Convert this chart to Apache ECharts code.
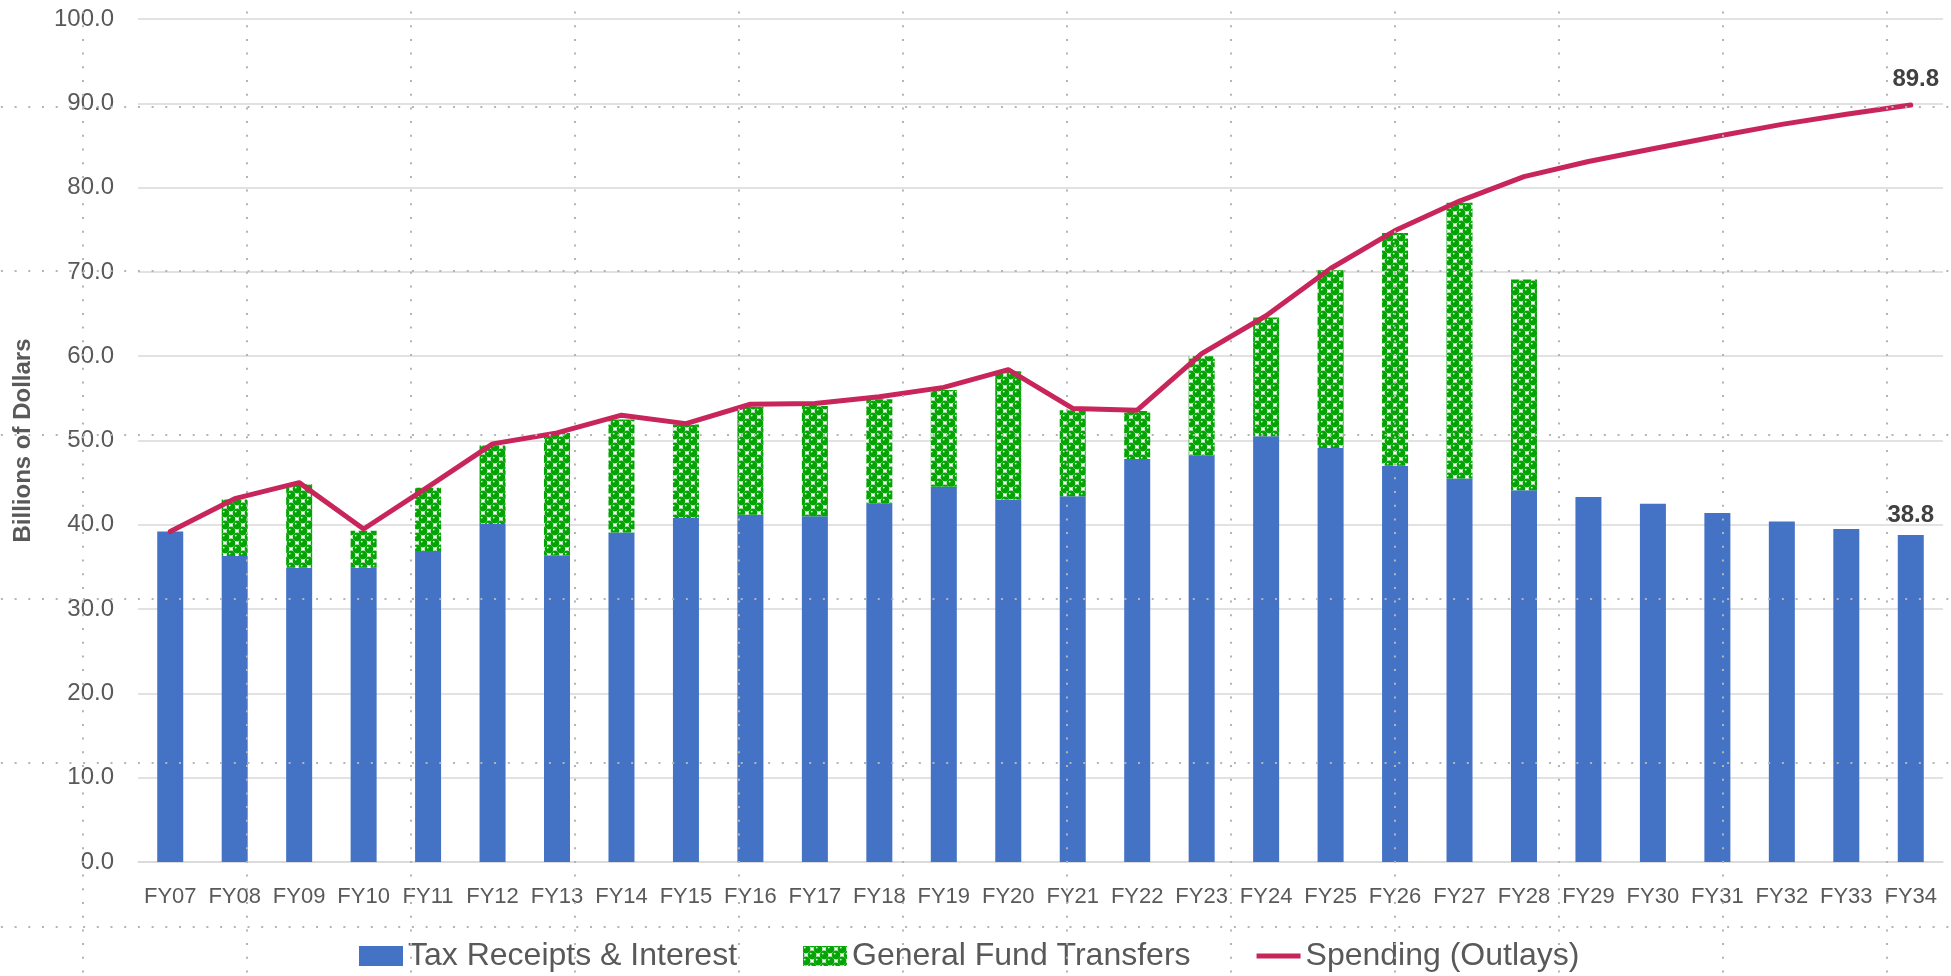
<!DOCTYPE html>
<html>
<head>
<meta charset="utf-8">
<title>Outlays vs receipts</title>
<script src="https://cdn.jsdelivr.net/npm/echarts@6.0.0/dist/echarts.min.js"></script>
<style>
  html, body { margin: 0; padding: 0; background: #fff; }
  #container { width: 1951px; height: 976px; }
</style>
</head>
<body>
<div id="container"></div>
<script>
// fiscal years
var years = ['FY07','FY08','FY09','FY10','FY11','FY12','FY13','FY14','FY15','FY16',
  'FY17','FY18','FY19','FY20','FY21','FY22','FY23','FY24','FY25','FY26',
  'FY27','FY28','FY29','FY30','FY31','FY32','FY33','FY34'];

// billions of dollars
var taxReceipts = [39.2, 36.3, 34.9, 34.9, 36.9, 40.1, 36.4, 39.1, 40.8, 41.2,
  41.0, 42.5, 44.5, 43.0, 43.4, 47.8, 48.2, 50.5, 49.1, 47.0,
  45.5, 44.1, 43.3, 42.5, 41.4, 40.4, 39.5, 38.8];
var fundTransfers = [null, 6.7, 9.9, 4.4, 7.5, 9.3, 14.5, 13.4, 11.1, 12.8,
  13.1, 12.4, 11.5, 15.2, 10.2, 5.7, 11.8, 14.1, 21.1, 27.6,
  32.7, 25.0, null, null, null, null, null, null];
var spending = [39.2, 43.1, 45.0, 39.5, 44.5, 49.6, 50.9, 53.0, 52.0, 54.3,
  54.4, 55.2, 56.3, 58.4, 53.8, 53.6, 60.3, 64.8, 70.4, 74.9,
  78.4, 81.3, 83.1, 84.6, 86.1, 87.5, 88.7, 89.8];

var yTicks = { min: 0, max: 100, step: 10 };

var font = 'Liberation Sans';
var grey = '#595959';
var red = '#c8265a';

// green "sphere" fill like the office pattern
function spherePattern() {
  var c = document.createElement('canvas');
  c.width = 12;
  c.height = 12;
  var ctx = c.getContext('2d');
  ctx.fillStyle = '#ffffff';
  ctx.fillRect(0, 0, 12, 12);
  var pts = [[3, 3], [9, 9], [-3, 9], [15, 3], [9, -3], [3, 15], [-3, -3], [15, 15]];
  pts.forEach(function (p) {
    ctx.fillStyle = '#03a403';
    ctx.beginPath();
    ctx.arc(p[0], p[1], 4.4, 0, Math.PI * 2);
    ctx.fill();
    ctx.fillStyle = '#e8ffe8';
    ctx.beginPath();
    ctx.arc(p[0] - 1.3, p[1] - 1.4, 0.9, 0, Math.PI * 2);
    ctx.fill();
  });
  return { image: c, repeat: 'repeat' };
}

var last = years.length - 1;
var boldLabel = { show: true, fontFamily: font, fontWeight: 'bold', fontSize: 24, color: '#404040' };

var taxData = taxReceipts.map(function (v, i) {
  if (i === last) {
    return { value: v, label: Object.assign({ position: 'top', distance: 8 }, boldLabel) };
  }
  return v;
});
var spendData = spending.map(function (v, i) {
  if (i === last) {
    return { value: v, label: Object.assign({ position: 'top', distance: 13, offset: [5, 0] }, boldLabel) };
  }
  return v;
});

// the dotted layout guides lying over the whole picture
var guideLine = { show: true, lineStyle: { color: '#b4b4b4', width: 2, type: [2, 11.7] } };

var instance = echarts.init(document.getElementById('container'));
instance.setOption({
  animation: false,
  textStyle: { fontFamily: font },
  grid: [
    { left: 138, right: 8, top: 19, bottom: 114, outerBoundsMode: 'none' },
    { left: -81.3, top: -57, width: 2132, height: 1148, outerBoundsMode: 'none' }
  ],
  legend: {
    top: 935,
    left: 354,
    itemWidth: 44,
    itemHeight: 20,
    itemGap: 66,
    textStyle: { fontFamily: font, fontSize: 32, color: grey },
    data: [
      { name: 'Tax Receipts & Interest', icon: 'rect' },
      { name: 'General Fund Transfers', icon: 'rect' },
      { name: 'Spending (Outlays)', icon: 'path://M0,0L44,0L44,5L0,5Z' }
    ]
  },
  xAxis: [
    {
      type: 'category',
      data: years,
      axisLine: { lineStyle: { color: '#d9d9d9', width: 1.5 } },
      axisTick: { show: false },
      axisLabel: { interval: 0, fontFamily: font, fontSize: 22, color: grey, margin: 24 }
    },
    {
      gridIndex: 1, type: 'value', min: 0, max: 2132, interval: 164, z: 10, silent: true,
      axisLine: { show: false }, axisTick: { show: false }, axisLabel: { show: false },
      splitLine: guideLine
    }
  ],
  yAxis: [
    {
      type: 'value',
      min: yTicks.min,
      max: yTicks.max,
      interval: yTicks.step,
      name: 'Billions of Dollars',
      nameLocation: 'middle',
      nameGap: 103,
      nameTextStyle: { fontFamily: font, fontWeight: 'bold', fontSize: 24, color: grey },
      axisLabel: {
        fontFamily: font, fontSize: 24, color: grey, margin: 24,
        formatter: function (v) { return v.toFixed(1); }
      },
      splitLine: { lineStyle: { color: '#d9d9d9', width: 1.5 } }
    },
    {
      gridIndex: 1, type: 'value', min: 0, max: 1148, interval: 164, z: 10, silent: true,
      axisLine: { show: false }, axisTick: { show: false }, axisLabel: { show: false },
      splitLine: guideLine
    }
  ],
  series: [
    {
      name: 'Tax Receipts & Interest',
      type: 'bar',
      stack: 'funds',
      barWidth: 26,
      itemStyle: { color: '#4472c4' },
      data: taxData
    },
    {
      name: 'General Fund Transfers',
      type: 'bar',
      stack: 'funds',
      barWidth: 26,
      itemStyle: { color: spherePattern() },
      data: fundTransfers
    },
    {
      name: 'Spending (Outlays)',
      type: 'line',
      symbol: 'circle',
      symbolSize: 1,
      z: 5,
      lineStyle: { color: red, width: 5, cap: 'round', join: 'round' },
      itemStyle: { color: red },
      data: spendData
    }
  ]
});
</script>
</body>
</html>
